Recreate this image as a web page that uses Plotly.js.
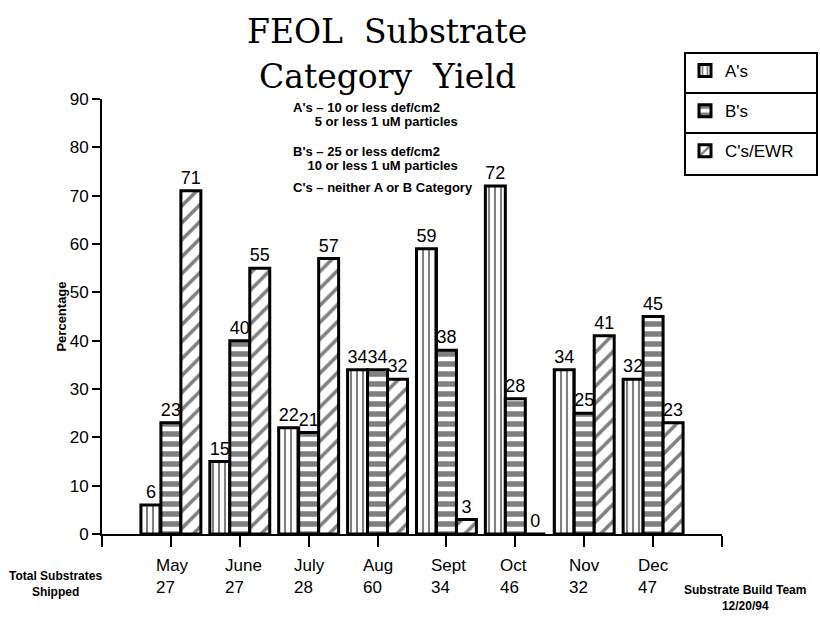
<!DOCTYPE html>
<html><head><meta charset="utf-8">
<script src="https://cdn.plot.ly/plotly-3.0.1.min.js"></script>
<style>html,body{margin:0;padding:0;background:#fff}#chart{width:820px;height:617px}</style>
</head><body><div id="chart"></div>
<script>
const months = ["May","June","July","Aug","Sept","Oct","Nov","Dec"];
const shipped = [27,27,28,60,34,46,32,47];
const aVals = [6,15,22,34,59,72,34,32];
const bVals = [23,40,21,34,38,28,25,45];
const cVals = [71,55,57,32,3,0,41,23];
const seriesNames = ["A's","B's","C's/EWR"];
const titleLines = ["FEOL Substrate","Category Yield"];
const noteLines = [
  "A's \u2013 10 or less def/cm2",
  "   5 or less 1 uM particles",
  "B's \u2013 25 or less def/cm2",
  "  10 or less 1 uM particles",
  "C's \u2013 neither A or B Category"
];

// plot area in pixels (for converting placement of free text)
const PL = 102, PR = 722, PT = 99, PB = 534;
const px = v => (v - PL) / (PR - PL);
const py = v => (PB - v) / (PB - PT);
const noteY = [107,121,151,165,187];
const titleY = [31,76];

const xs = months.map((m,i)=>i);
const sans = "Liberation Sans, Arial, sans-serif";

function mk(name, vals, shape, size, sol){
  return {
    type:'bar', name:name, x:xs, y:vals,
    text:vals.map(String), textposition:'outside', constraintext:'none', cliponaxis:false,
    textfont:{family:sans,size:18,color:'#000'},
    marker:{color:'#fff', line:{color:'#000',width:3},
      pattern:{shape:shape, fgcolor:'#000', bgcolor:'#fff', size:size, solidity:sol, fillmode:'overlay'}},
    legendgroup:name
  };
}
const traces = [
  mk(seriesNames[0], aVals, '|', 6, 0.35),
  mk(seriesNames[1], bVals, '-', 10, 0.55),
  mk(seriesNames[2], cVals, '/', 12, 0.3)
];

const annotations = [];
titleLines.forEach((t,i)=>{
  annotations.push({xref:'paper', yref:'paper', x:px(387), y:py(titleY[i]), xanchor:'center', yanchor:'middle',
    showarrow:false, text:t.replace(' ','\u00a0\u00a0'), font:{family:'DejaVu Serif, serif', size:33, color:'#000'}});
});
months.forEach((m,i)=>{
  annotations.push({x:i, xref:'x', y:0, yref:'paper', yanchor:'top', xanchor:'left', xshift:-17, yshift:-20,
    align:'left', showarrow:false, text:m+'<br>'+shipped[i], font:{family:sans,size:17,color:'#000'}});
});
noteLines.forEach((t,i)=>{
  const lead = t.match(/^ */)[0].length;
  annotations.push({x:px(291), xref:'paper', y:py(noteY[i]), yref:'paper', xanchor:'left', yanchor:'middle',
    showarrow:false, text:'<b>'+'\u00a0'.repeat(lead*2)+t.trim()+'</b>',
    font:{family:sans,size:13,color:'#000'}});
});
annotations.push({xref:'paper', yref:'paper', x:px(55), y:py(584), xanchor:'center', yanchor:'middle',
  showarrow:false, text:'<b>Total Substrates<br>Shipped</b>', font:{family:sans,size:12,color:'#000'}});
annotations.push({xref:'paper', yref:'paper', x:px(745), y:py(598), xanchor:'center', yanchor:'middle',
  showarrow:false, text:'<b>Substrate Build Team<br>12/20/94</b>', font:{family:sans,size:12,color:'#000'}});

const shapes = [
  {type:'rect', xref:'paper', yref:'paper', x0:px(685), x1:px(817), y0:py(53), y1:py(175), line:{color:'#000',width:2}},
  {type:'line', xref:'paper', yref:'paper', x0:px(685), x1:px(817), y0:py(93), y1:py(93), line:{color:'#000',width:2}},
  {type:'line', xref:'paper', yref:'paper', x0:px(685), x1:px(817), y0:py(133), y1:py(133), line:{color:'#000',width:2}}
];

const layout = {
  width:820, height:617,
  margin:{l:PL, r:820-PR, t:PT, b:617-PB},
  paper_bgcolor:'#fff', plot_bgcolor:'#fff',
  barmode:'group', bargap:0.13, bargroupgap:0,
  xaxis:{range:[-1,8], tickvals:[-1,0,1,2,3,4,5,6,7,8], ticktext:['','','','','','','','','',''],
    showgrid:false, zeroline:false, showline:true, linecolor:'#000', linewidth:2,
    ticks:'outside', ticklen:11, tickwidth:2, tickcolor:'#000'},
  yaxis:{range:[0,90], tickvals:[0,10,20,30,40,50,60,70,80,90], showgrid:false, zeroline:false,
    showline:true, linecolor:'#000', linewidth:2, ticks:'outside', ticklen:8, tickwidth:2, tickcolor:'#000',
    tickfont:{family:sans,size:17,color:'#000'},
    title:{text:'<b>Percentage</b>', standoff:0, font:{family:sans,size:13,color:'#000'}}},
  showlegend:true,
  legend:{x:px(685), xanchor:'left', y:py(53), yanchor:'top', borderwidth:0,
    bgcolor:'rgba(0,0,0,0)', font:{family:sans,size:17,color:'#000'}, tracegroupgap:15, traceorder:'grouped', itemwidth:30},
  annotations:annotations,
  shapes:shapes
};
Plotly.newPlot('chart', traces, layout, {staticPlot:true, displayModeBar:false});
</script></body></html>
